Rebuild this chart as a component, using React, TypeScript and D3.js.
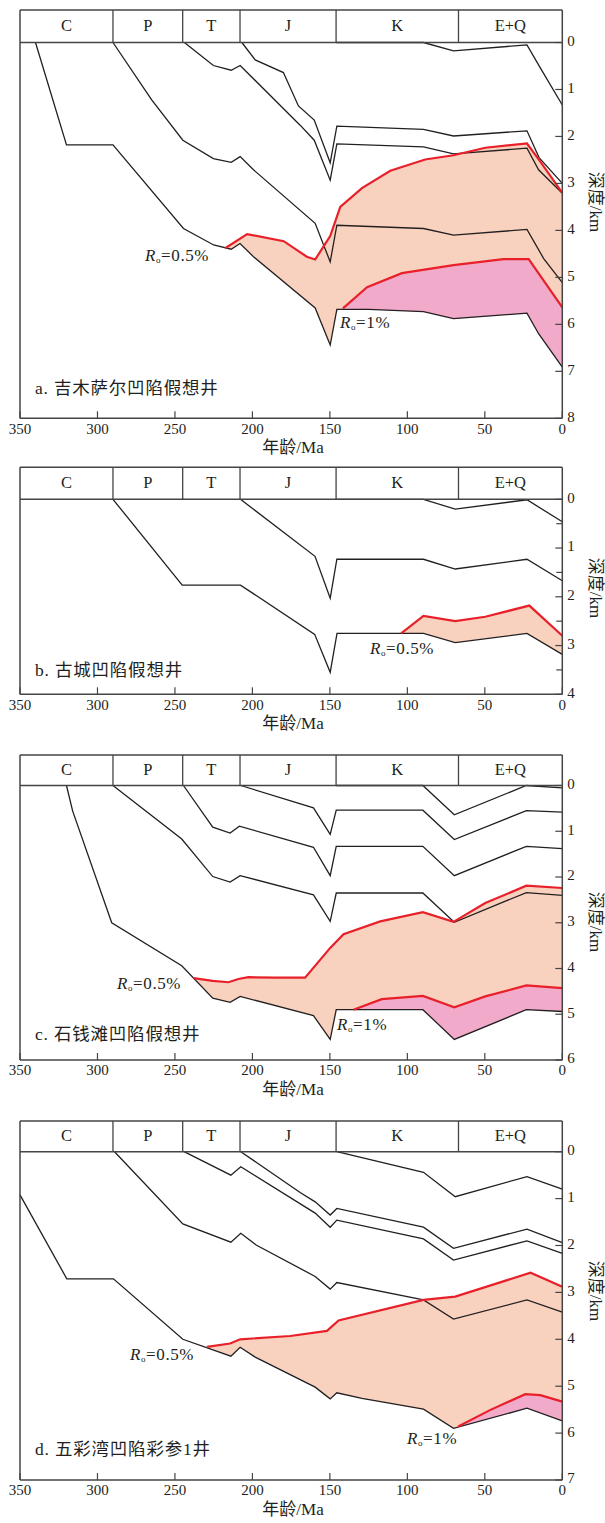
import React from "react";
import * as d3 from "d3";

type P = [number, number];

// Geological periods (header) and their age boundaries (Ma)
const periods = ["C", "P", "T", "J", "K", "E+Q"];
const periodBounds = [350, 290, 245, 208, 146, 67, 0];
const ageTicks = [350, 300, 250, 200, 150, 100, 50, 0];

// ---- Panel a: 吉木萨尔凹陷假想井 ----
const aBase: P[] = [[340, 0], [320, 2.18], [290, 2.18], [244.5, 3.96], [225, 4.31], [213.7, 4.4], [208, 4.28], [199.3, 4.56], [159.5, 5.65], [149.8, 6.44], [145.5, 5.68], [125, 5.68], [89.6, 5.73], [70.2, 5.88], [22.8, 5.76], [15.3, 6.2], [0, 6.91]];
const aP: P[] = [[290, 0], [265, 1.22], [244.9, 2.08], [225.2, 2.47], [213.7, 2.55], [207.9, 2.43], [199.3, 2.71], [159.5, 3.85], [149.8, 4.67], [145.5, 3.89], [89.6, 3.96], [70.2, 4.1], [22.8, 3.98], [12, 4.6], [0, 5.11]];
const aT: P[] = [[243.9, 0], [225.2, 0.49], [213.7, 0.59], [207.9, 0.49], [169.2, 1.76], [160.1, 2.08], [149.8, 2.93], [145.5, 2.16], [89.6, 2.22], [70.2, 2.37], [22.8, 2.25], [15.3, 2.71], [0, 3.21]];
const aJ: P[] = [[206.8, 0], [198.2, 0.37], [180, 0.64], [170.3, 1.35], [160.1, 1.65], [149.8, 2.56], [145.5, 1.78], [89.6, 1.85], [70.2, 1.99], [22.8, 1.88], [15, 2.45], [0, 3.0]];
const aK: P[] = [[146, 0], [89.6, 0], [70.2, 0.18], [22.8, 0.05], [14, 0.55], [0, 1.33]];
const aRo05: P[] = [[217.6, 4.38], [203.4, 4.08], [179.8, 4.23], [164.9, 4.56], [159.5, 4.62], [149.8, 4.12], [143.3, 3.5], [129.3, 3.1], [111, 2.73], [88.5, 2.49], [70.2, 2.4], [49.7, 2.24], [22.8, 2.15], [15, 2.5], [0, 3.2]];
const aRo1: P[] = [[141.6, 5.66], [126, 5.21], [103.5, 4.91], [70.2, 4.74], [37.9, 4.61], [21.7, 4.61], [0, 5.64]];
const aDepthTicks = [0, 1, 2, 3, 4, 5, 6, 7, 8];

// ---- Panel b: 古城凹陷假想井 ----
const bBase: P[] = [[290, 0], [245.3, 1.76], [207.7, 1.76], [159.8, 2.77], [149.8, 3.55], [145.4, 2.75], [89.6, 2.75], [69.1, 2.94], [22.8, 2.75], [0, 3.18]];
const bJ: P[] = [[207.7, 0], [159.6, 1.17], [149.8, 2.03], [145.5, 1.23], [89.6, 1.23], [69.1, 1.43], [22.8, 1.23], [0, 1.67]];
const bK: P[] = [[146, 0], [89.6, 0], [69.1, 0.2], [22.8, 0.01], [0, 0.46]];
const bRo05: P[] = [[104, 2.75], [89.6, 2.39], [69.1, 2.5], [49.7, 2.41], [21.3, 2.18], [0, 2.8]];
const bDepthTicks = [0, 1, 2, 3, 4];

// ---- Panel c: 石钱滩凹陷假想井 ----
const cBase: P[] = [[320, 0], [316, 0.56], [290.8, 3.0], [245.6, 3.94], [225.6, 4.65], [214.4, 4.74], [207.9, 4.61], [160.6, 5.03], [149.8, 5.55], [145.9, 4.9], [90, 4.9], [69.7, 5.55], [23.2, 4.9], [0, 4.94]];
const cP: P[] = [[290, 0], [245.6, 1.17], [225.6, 1.99], [214.4, 2.11], [207.9, 1.97], [160.6, 2.39], [149.8, 2.97], [145.9, 2.35], [90, 2.35], [69.7, 2.99], [23.2, 2.34], [0, 2.4]];
const cT: P[] = [[244.5, 0], [225.6, 0.91], [214.4, 1.04], [208.4, 0.89], [160.6, 1.35], [149.8, 1.97], [145.9, 1.33], [90, 1.33], [69.7, 1.97], [23.2, 1.33], [0, 1.38]];
const cJ: P[] = [[207.5, 0], [160.6, 0.49], [149.8, 1.07], [145.9, 0.54], [90, 0.54], [69.7, 1.18], [23.2, 0.55], [0, 0.58]];
const cK: P[] = [[146, 0], [90, 0], [69.7, 0.64], [23.2, 0], [0, 0.05]];
const cRo05: P[] = [[238, 4.21], [225.6, 4.27], [215.5, 4.3], [209, 4.23], [202.6, 4.19], [185, 4.2], [166, 4.2], [149.8, 3.55], [141.2, 3.25], [117.5, 2.97], [90, 2.77], [70.2, 2.98], [49.7, 2.57], [23.2, 2.19], [0, 2.24]];
const cRo1: P[] = [[134.8, 4.9], [116.5, 4.67], [90, 4.6], [69.7, 4.85], [49.7, 4.61], [23.2, 4.37], [0, 4.43]];
const cDepthTicks = [0, 1, 2, 3, 4, 5, 6];

// ---- Panel d: 五彩湾凹陷彩参1井 ----
const dBase: P[] = [[350, 0.92], [319.8, 2.71], [289.7, 2.71], [244.9, 4.0], [213.9, 4.36], [207.9, 4.17], [198.2, 4.38], [159.5, 5.02], [149.8, 5.27], [145.5, 5.14], [129.3, 5.26], [89.6, 5.49], [70.2, 5.9], [22.8, 5.47], [0, 5.74]];
const dP: P[] = [[289, 0], [244.9, 1.54], [213.9, 1.93], [207.5, 1.74], [197.6, 1.99], [159.5, 2.66], [149.8, 2.93], [145.5, 2.79], [89.6, 3.16], [70.2, 3.57], [22.8, 3.16], [0, 3.42]];
const dT: P[] = [[244.1, 0], [213.9, 0.5], [207.5, 0.32], [159.5, 1.31], [149.8, 1.61], [145.5, 1.46], [89.6, 1.86], [70.2, 2.31], [22.8, 1.9], [0, 2.17]];
const dJ: P[] = [[207.5, 0], [169.2, 0.87], [159.5, 1.07], [149.8, 1.35], [145.5, 1.21], [89.6, 1.61], [70.2, 2.06], [22.8, 1.65], [0, 1.94]];
const dK: P[] = [[145.5, 0], [89.6, 0.44], [69.1, 0.96], [22.8, 0.53], [0, 0.8]];
const dRo05: P[] = [[229.4, 4.16], [214.4, 4.09], [207.9, 4.0], [175.6, 3.93], [151.9, 3.82], [144.4, 3.6], [89.6, 3.16], [69.1, 3.09], [20.5, 2.58], [0, 2.88]];
const dRo1: P[] = [[67.2, 5.86], [46.7, 5.51], [23.9, 5.17], [14.2, 5.19], [0, 5.33]];
const dDepthTicks = [0, 1, 2, 3, 4, 5, 6, 7];

const panelTitles = ["a. 吉木萨尔凹陷假想井", "b. 古城凹陷假想井", "c. 石钱滩凹陷假想井", "d. 五彩湾凹陷彩参1井"];

const FONT = "'Liberation Serif','Times New Roman','Noto Sans CJK SC',serif";
const INK = "#231f20";
const FRAME = "#444";
const SALMON = "#F9D2BF";
const PINK = "#F2AACB";
const RED = "#E8202A";

const x = d3.scaleLinear().domain([350, 0]).range([20, 562.3]);

interface Label { text: string; x: number; y: number }
interface Cfg {
  top: number; y0: number; yB: number; max: number; halfTicks: boolean;
  depthTicks: number[];
  base: P[]; others: P[][]; ro05: P[]; ro1?: P[];
  title: string; titleY: number; yTitleY: number;
  ro05Label: Label; ro1Label?: Label;
}

const panels: Cfg[] = [
  { top: 10, y0: 42.5, yB: 418.3, max: 8, halfTicks: false, depthTicks: aDepthTicks, base: aBase, others: [aP, aT, aJ, aK], ro05: aRo05, ro1: aRo1, title: panelTitles[0], titleY: 390, yTitleY: 202, ro05Label: { text: "=0.5%", x: 145, y: 257 }, ro1Label: { text: "=1%", x: 340, y: 324 } },
  { top: 467.3, y0: 499.3, yB: 694.3, max: 4, halfTicks: true, depthTicks: bDepthTicks, base: bBase, others: [bJ, bK], ro05: bRo05, title: panelTitles[1], titleY: 672, yTitleY: 588, ro05Label: { text: "=0.5%", x: 370, y: 650 } },
  { top: 755, y0: 785.5, yB: 1060, max: 6, halfTicks: false, depthTicks: cDepthTicks, base: cBase, others: [cP, cT, cJ, cK], ro05: cRo05, ro1: cRo1, title: panelTitles[2], titleY: 1036, yTitleY: 922, ro05Label: { text: "=0.5%", x: 117, y: 985 }, ro1Label: { text: "=1%", x: 337, y: 1026 } },
  { top: 1121, y0: 1151.7, yB: 1480, max: 7, halfTicks: false, depthTicks: dDepthTicks, base: dBase, others: [dP, dT, dJ, dK], ro05: dRo05, ro1: dRo1, title: panelTitles[3], titleY: 1451, yTitleY: 1291, ro05Label: { text: "=0.5%", x: 130, y: 1356 }, ro1Label: { text: "=1%", x: 407, y: 1440 } },
];

function RoLabel({ l }: { l: Label }) {
  return (
    <text x={l.x} y={l.y} dominantBaseline="middle" fontFamily={FONT} fontSize={17} letterSpacing={0.6} fill={INK}>
      <tspan fontStyle="italic">R</tspan>
      <tspan fontSize={9} dy={4}>o</tspan>
      <tspan dy={-4}>{l.text}</tspan>
    </text>
  );
}

function Panel({ c }: { c: Cfg }) {
  const y = d3.scaleLinear().domain([0, c.max]).range([c.y0, c.yB]);
  const line = d3.line<P>().x((d) => x(d[0])).y((d) => y(d[1]));
  const fillPath = (top: P[], base: P[]) => {
    const start = top[0][0];
    const b = base.filter((p) => p[0] < start).reverse();
    return (line([...top, ...b]) || "") + "Z";
  };
  const xL = x(350), xR = x(0);
  const minor = c.halfTicks ? d3.range(0.5, c.max, 1) : [];
  return (
    <g>
      <path d={fillPath(c.ro05, c.base)} fill={SALMON} stroke="none" />
      {c.ro1 && <path d={fillPath(c.ro1, c.base)} fill={PINK} stroke="none" />}
      {[c.base, ...c.others].map((s, i) => (
        <path key={i} d={line(s) || ""} fill="none" stroke={INK} strokeWidth={1.3} strokeLinejoin="miter" />
      ))}
      <path d={line(c.ro05) || ""} fill="none" stroke={RED} strokeWidth={2.2} />
      {c.ro1 && <path d={line(c.ro1) || ""} fill="none" stroke={RED} strokeWidth={2.2} />}
      {/* header */}
      <line x1={xL} x2={xR} y1={c.top} y2={c.top} stroke={FRAME} strokeWidth={1.5} />
      <line x1={xL} x2={xR} y1={c.y0} y2={c.y0} stroke={FRAME} strokeWidth={1.5} />
      {periodBounds.slice(1, -1).map((b) => (
        <line key={b} x1={x(b)} x2={x(b)} y1={c.top} y2={c.y0} stroke={FRAME} strokeWidth={1.3} />
      ))}
      {periods.map((p, i) => (
        <text key={p} x={(x(periodBounds[i]) + x(periodBounds[i + 1])) / 2} y={(c.top + c.y0) / 2 + 1}
          textAnchor="middle" dominantBaseline="middle" fontFamily={FONT} fontSize={16.5} fill={INK}>{p}</text>
      ))}
      {/* frame */}
      <line x1={xL} x2={xL} y1={c.top} y2={c.yB} stroke={FRAME} strokeWidth={1.5} />
      <line x1={xR} x2={xR} y1={c.top} y2={c.yB} stroke={FRAME} strokeWidth={1.5} />
      <line x1={xL} x2={xR} y1={c.yB} y2={c.yB} stroke={FRAME} strokeWidth={1.5} />
      {/* bottom axis */}
      {ageTicks.map((t) => (
        <g key={t}>
          <line x1={x(t)} x2={x(t)} y1={c.yB - 7} y2={c.yB} stroke={FRAME} strokeWidth={1.2} />
          <text x={x(t)} y={c.yB + 12} textAnchor="middle" dominantBaseline="middle" fontFamily={FONT} fontSize={15} fill={INK}>{t}</text>
        </g>
      ))}
      <text x={293} y={c.yB + 31} textAnchor="middle" dominantBaseline="middle" fontFamily={FONT} fontSize={17} fill={INK}>年龄/Ma</text>
      {/* right axis */}
      {c.depthTicks.map((t) => (
        <g key={t}>
          <line x1={xR - 7} x2={xR} y1={y(t)} y2={y(t)} stroke={FRAME} strokeWidth={1.2} />
          <text x={xR + 5} y={y(t)} dominantBaseline="middle" fontFamily={FONT} fontSize={15} fill={INK}>{t}</text>
        </g>
      ))}
      {minor.map((t) => (
        <line key={"m" + t} x1={xR - 6} x2={xR} y1={y(t)} y2={y(t)} stroke={FRAME} strokeWidth={1.2} />
      ))}
      <text transform={`translate(594,${c.yTitleY}) rotate(90)`} textAnchor="middle" dominantBaseline="middle" fontFamily={FONT} fontSize={17} fill={INK}>深度/km</text>
      {/* labels */}
      <RoLabel l={c.ro05Label} />
      {c.ro1Label && <RoLabel l={c.ro1Label} />}
      <text x={35} y={c.titleY} dominantBaseline="middle" fontFamily={FONT} fontSize={17.5} letterSpacing={0.8} fill={INK}>{c.title}</text>
    </g>
  );
}

export default function App() {
  return (
    <svg width={605} height={1523} viewBox="0 0 605 1523" style={{ position: "absolute", left: 0, top: 0, background: "#fff" }}>
      <rect x={0} y={0} width={605} height={1523} fill="#fff" />
      {panels.map((c, i) => <Panel key={i} c={c} />)}
    </svg>
  );
}
